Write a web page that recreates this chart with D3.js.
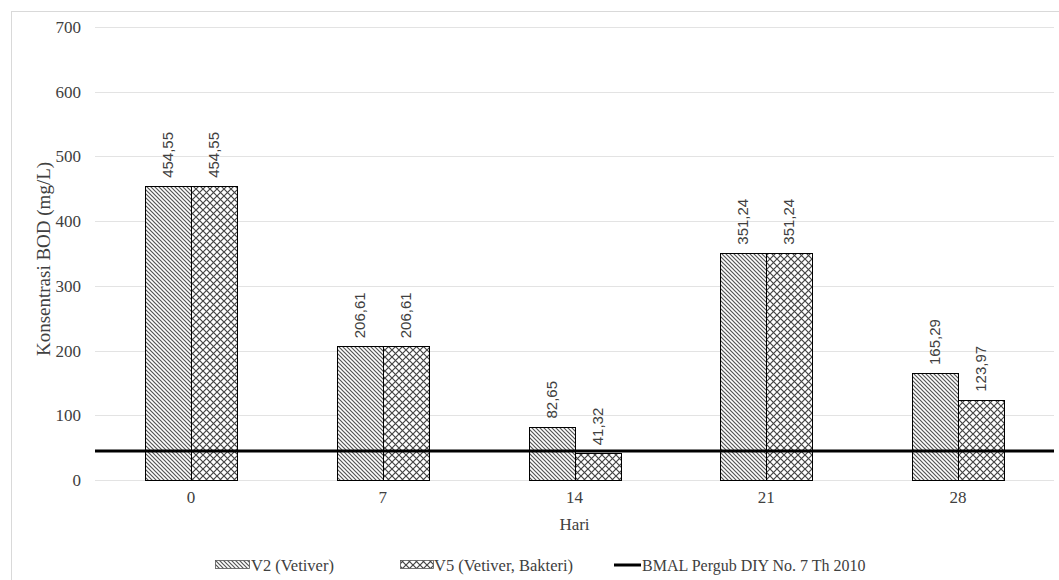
<!DOCTYPE html>
<html>
<head>
<meta charset="utf-8">
<script src="https://cdn.jsdelivr.net/npm/d3@7"></script>
<style>
  body { margin: 0; background: #fff; }
  text { font-family: "Liberation Serif", "Times New Roman", serif; }
</style>
</head>
<body>
<svg id="chart" width="1059" height="580"></svg>
<script>
var days = ["0", "7", "14", "21", "28"];
var v2Values = [454.55, 206.61, 82.65, 351.24, 165.29];
var v5Values = [454.55, 206.61, 41.32, 351.24, 123.97];
var bmalValue = 45;
var yTicks = [0, 100, 200, 300, 400, 500, 600, 700];
var seriesNames = ["V2 (Vetiver)", "V5 (Vetiver, Bakteri)", "BMAL Pergub DIY No. 7 Th 2010"];

var svg = d3.select("#chart");
var plotLeft = 95, plotRight = 1054, plotTop = 27, plotBottom = 480;
var txt = "#404040";

// patterns
var defs = svg.append("defs");
var p1 = defs.append("pattern").attr("id", "diag").attr("patternUnits", "userSpaceOnUse")
  .attr("width", 4).attr("height", 4);
p1.append("rect").attr("width", 4).attr("height", 4).attr("fill", "#fff");
p1.append("path").attr("d", "M-1,-1 L5,5 M-1,3 L1,5 M3,-1 L5,1")
  .attr("stroke", "#555").attr("stroke-width", 1.2);

var p2 = defs.append("pattern").attr("id", "diamond").attr("patternUnits", "userSpaceOnUse")
  .attr("width", 7).attr("height", 7);
p2.append("rect").attr("width", 7).attr("height", 7).attr("fill", "#fff");
p2.append("path").attr("d", "M0,0 L7,7 M7,0 L0,7")
  .attr("stroke", "#444").attr("stroke-width", 1.2);

// frame
svg.append("rect").attr("x", 11.5).attr("y", 11.5).attr("width", 1060).attr("height", 600)
  .attr("fill", "none").attr("stroke", "#d9d9d9");

var x0 = d3.scaleBand().domain(days).range([plotLeft, plotRight]).paddingInner(0).paddingOuter(0);
var bw = 46;
var y = d3.scaleLinear().domain([0, 700]).range([plotBottom, plotTop]);

// gridlines
svg.append("g").selectAll("line").data(yTicks).join("line")
  .attr("x1", plotLeft).attr("x2", plotRight)
  .attr("y1", d => Math.round(y(d)) + 0.5).attr("y2", d => Math.round(y(d)) + 0.5)
  .attr("stroke", "#e3e3e3");

// y axis labels
var yAxis = d3.axisLeft(y).tickValues(yTicks).tickSize(0).tickPadding(14);
var ya = svg.append("g").attr("transform", "translate(" + plotLeft + ",0)").call(yAxis);
ya.select(".domain").remove();
ya.selectAll("text").attr("font-size", 17).attr("fill", txt)
  .style("font-family", "Liberation Serif");

// x axis
var xAxis = d3.axisBottom(x0).tickSize(0).tickPadding(11);
var xa = svg.append("g").attr("transform", "translate(0," + plotBottom + ")").call(xAxis);
xa.select(".domain").remove();
xa.selectAll("text").attr("font-size", 17).attr("fill", txt)
  .style("font-family", "Liberation Serif");

// bars
var series = [
  { vals: v2Values, fill: "url(#diag)", off: -bw },
  { vals: v5Values, fill: "url(#diamond)", off: 0 }
];
series.forEach(function(s) {
  var g = svg.append("g");
  g.selectAll("rect").data(days).join("rect")
    .attr("x", (d, i) => Math.round(x0(d) + x0.bandwidth() / 2 + s.off) + 0.5)
    .attr("y", (d, i) => Math.round(y(s.vals[i])) + 0.5)
    .attr("width", bw)
    .attr("height", (d, i) => Math.round(y(0)) - Math.round(y(s.vals[i])))
    .attr("fill", s.fill)
    .attr("stroke", "#000").attr("stroke-width", 1);
  g.selectAll("text").data(days).join("text")
    .attr("transform", (d, i) => "translate(" + (x0(d) + x0.bandwidth() / 2 + s.off + bw / 2 + 5) + "," + (y(s.vals[i]) - 8) + ") rotate(-90)")
    .attr("font-size", 15).attr("fill", txt)
    .style("font-family", "Liberation Sans, Arial, sans-serif")
    .text((d, i) => d3.format(".2f")(s.vals[i]).replace(".", ","));
});

// BMAL line
svg.append("line").attr("x1", plotLeft).attr("x2", plotRight)
  .attr("y1", y(bmalValue)).attr("y2", y(bmalValue))
  .attr("stroke", "#000").attr("stroke-width", 3);

// axis titles
svg.append("text").attr("x", (plotLeft + plotRight) / 2).attr("y", 530)
  .attr("text-anchor", "middle").attr("font-size", 17).attr("fill", txt).text("Hari");
svg.append("text").attr("transform", "translate(50,259) rotate(-90)")
  .attr("text-anchor", "middle").attr("font-size", 19).attr("fill", txt)
  .text("Konsentrasi BOD (mg/L)");

// legend
var lg = svg.append("g").attr("transform", "translate(0,565)");
lg.append("rect").attr("x", 215.5).attr("y", -4.5).attr("width", 34).attr("height", 8)
  .attr("fill", "url(#diag)").attr("stroke", "#555").attr("stroke-width", 0.8);
lg.append("text").attr("x", 251).attr("y", 6).attr("font-size", 16.5).attr("fill", txt).text(seriesNames[0]);
lg.append("rect").attr("x", 400.5).attr("y", -4.5).attr("width", 33).attr("height", 8)
  .attr("fill", "url(#diamond)").attr("stroke", "#555").attr("stroke-width", 0.8);
lg.append("text").attr("x", 434).attr("y", 6).attr("font-size", 16.5).attr("fill", txt).text(seriesNames[1]);
lg.append("line").attr("x1", 614).attr("x2", 641).attr("y1", 0).attr("y2", 0)
  .attr("stroke", "#000").attr("stroke-width", 3);
lg.append("text").attr("x", 642).attr("y", 6).attr("font-size", 16).attr("fill", txt).text(seriesNames[2]);
</script>
</body>
</html>
